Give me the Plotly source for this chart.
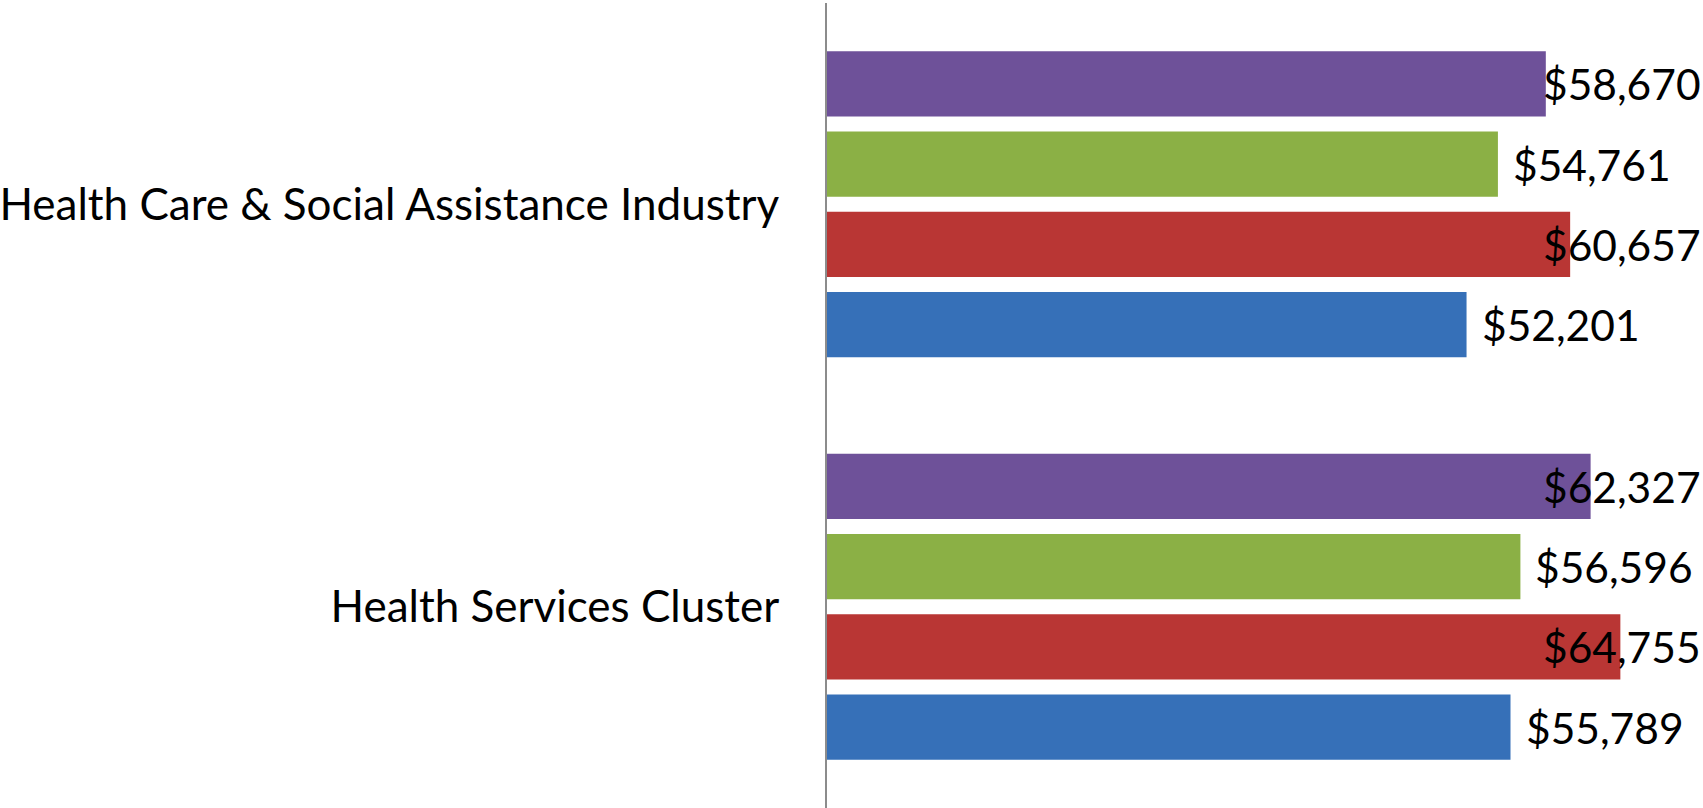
import plotly.graph_objects as go

categories = ["Health Services Cluster", "Health Care & Social Assistance Industry"]
series_names = ["Series 1", "Series 2", "Series 3", "Series 4"]
series_values = [
    [55789, 52201],   # blue
    [64755, 60657],   # red
    [56596, 54761],   # green
    [62327, 58670],   # purple
]
colors = ["#3670B8", "#B93634", "#8BB045", "#6E5199"]

X_MAX = 71500
BARGAP = 0.202
FONT = "Lato"
CAT_SIZE = 44
VAL_SIZE = 42.5
LABEL_PX = 172  # approximate label width incl. gap, px
PLOT_PX = 1703 - 827

fig = go.Figure()
for name, vals, col in zip(series_names, series_values, colors):
    fig.add_trace(go.Bar(
        y=categories, x=vals, name=name, orientation="h",
        marker=dict(color=col, line=dict(width=0)),
        hoverinfo="x+y",
    ))

n = len(series_values)
slot = (1 - BARGAP) / n
annotations = []
for i, vals in enumerate(series_values):
    for c, v in enumerate(vals):
        ypos = c - (1 - BARGAP) / 2 + slot * (i + 0.5)
        text = "${:,}".format(v)
        if v + LABEL_PX / PLOT_PX * X_MAX > X_MAX:
            annotations.append(dict(x=1, xref="paper", xanchor="right", y=ypos, yref="y",
                                    text=text, showarrow=False, xshift=0,
                                    font=dict(family=FONT, size=VAL_SIZE, color="#000000")))
        else:
            annotations.append(dict(x=v, xref="x", xanchor="left", y=ypos, yref="y",
                                    text=text, showarrow=False, xshift=13,
                                    font=dict(family=FONT, size=VAL_SIZE, color="#000000")))

fig.update_layout(
    width=1703, height=808,
    margin=dict(l=827, r=0, t=3, b=0, pad=0),
    barmode="group", bargap=BARGAP, bargroupgap=0.1875,
    plot_bgcolor="white", paper_bgcolor="white",
    showlegend=False,
    annotations=annotations,
    font=dict(family=FONT, size=CAT_SIZE, color="#000000"),
    xaxis=dict(range=[0, X_MAX], showgrid=False, zeroline=False, showticklabels=False,
               showline=False, ticks=""),
    yaxis=dict(categoryorder="array", categoryarray=categories, showgrid=False,
               zeroline=False, showline=True, linecolor="#8C8C8C", linewidth=2,
               ticks="", ticklabelstandoff=37,
               tickfont=dict(family=FONT, size=CAT_SIZE, color="#000000")),
)

fig.write_html("out.html", config={"displayModeBar": False},
               post_script="document.body.style.margin='0';document.body.style.overflow='hidden';")
